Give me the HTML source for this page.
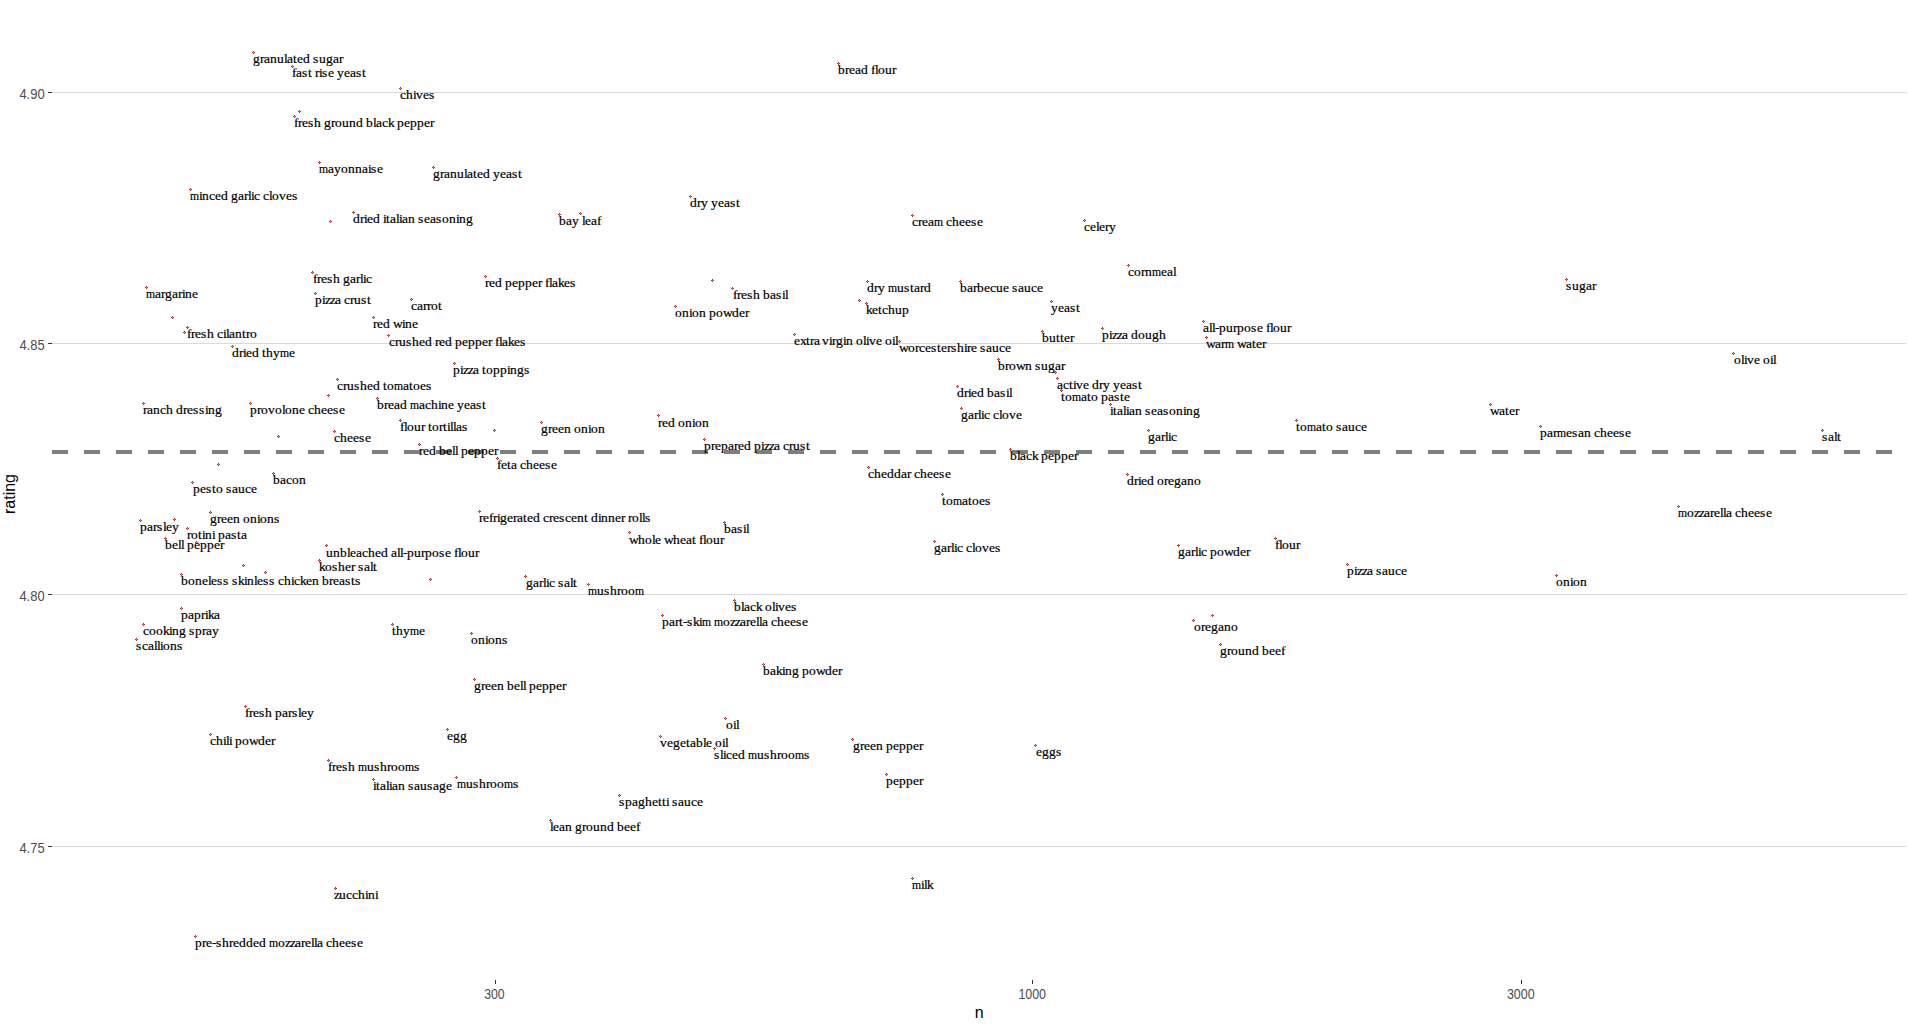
<!DOCTYPE html>
<html><head><meta charset="utf-8"><title>plot</title>
<style>
html,body{margin:0;padding:0;background:#fff;}
body{width:1908px;height:1028px;overflow:hidden;}
svg{display:block;}
.l{font-family:"Liberation Serif",serif;font-size:13px;fill:#000;stroke:#000;stroke-width:0.2px;}
.a{font-family:"Liberation Sans",sans-serif;font-size:14px;fill:#4d4d4d;}
.t{font-family:"Liberation Sans",sans-serif;font-size:16px;fill:#000;}
</style></head><body>
<svg width="1908" height="1028" viewBox="0 0 1908 1028">
<rect width="1908" height="1028" fill="#fff"/>
<rect x="52" y="92" width="1854" height="1" fill="#d9d9d9"/>
<rect x="52" y="343" width="1854" height="1" fill="#d9d9d9"/>
<rect x="52" y="594" width="1854" height="1" fill="#d9d9d9"/>
<rect x="52" y="846" width="1854" height="1" fill="#d9d9d9"/>
<rect x="48" y="92" width="4" height="1" fill="#333"/>
<rect x="48" y="343" width="4" height="1" fill="#333"/>
<rect x="48" y="594" width="4" height="1" fill="#333"/>
<rect x="48" y="846" width="4" height="1" fill="#333"/>
<rect x="495" y="980" width="1" height="4" fill="#333"/>
<rect x="1032" y="980" width="1" height="4" fill="#333"/>
<rect x="1521" y="980" width="1" height="4" fill="#333"/>
<g fill="#7f7f7f">
<rect x="52" y="450" width="16" height="4"/><rect x="84" y="450" width="16" height="4"/><rect x="116" y="450" width="16" height="4"/><rect x="148" y="450" width="16" height="4"/><rect x="180" y="450" width="16" height="4"/><rect x="212" y="450" width="16" height="4"/><rect x="244" y="450" width="16" height="4"/><rect x="276" y="450" width="16" height="4"/><rect x="308" y="450" width="16" height="4"/><rect x="340" y="450" width="16" height="4"/><rect x="372" y="450" width="16" height="4"/><rect x="404" y="450" width="16" height="4"/><rect x="436" y="450" width="16" height="4"/><rect x="468" y="450" width="16" height="4"/><rect x="500" y="450" width="16" height="4"/><rect x="532" y="450" width="16" height="4"/><rect x="564" y="450" width="16" height="4"/><rect x="596" y="450" width="16" height="4"/><rect x="628" y="450" width="16" height="4"/><rect x="660" y="450" width="16" height="4"/><rect x="692" y="450" width="16" height="4"/><rect x="724" y="450" width="16" height="4"/><rect x="756" y="450" width="16" height="4"/><rect x="788" y="450" width="16" height="4"/><rect x="820" y="450" width="16" height="4"/><rect x="852" y="450" width="16" height="4"/><rect x="884" y="450" width="16" height="4"/><rect x="916" y="450" width="16" height="4"/><rect x="948" y="450" width="16" height="4"/><rect x="980" y="450" width="16" height="4"/><rect x="1012" y="450" width="16" height="4"/><rect x="1044" y="450" width="16" height="4"/><rect x="1076" y="450" width="16" height="4"/><rect x="1108" y="450" width="16" height="4"/><rect x="1140" y="450" width="16" height="4"/><rect x="1172" y="450" width="16" height="4"/><rect x="1204" y="450" width="16" height="4"/><rect x="1236" y="450" width="16" height="4"/><rect x="1268" y="450" width="16" height="4"/><rect x="1300" y="450" width="16" height="4"/><rect x="1332" y="450" width="16" height="4"/><rect x="1364" y="450" width="16" height="4"/><rect x="1396" y="450" width="16" height="4"/><rect x="1428" y="450" width="16" height="4"/><rect x="1460" y="450" width="16" height="4"/><rect x="1492" y="450" width="16" height="4"/><rect x="1524" y="450" width="16" height="4"/><rect x="1556" y="450" width="16" height="4"/><rect x="1588" y="450" width="16" height="4"/><rect x="1620" y="450" width="16" height="4"/><rect x="1652" y="450" width="16" height="4"/><rect x="1684" y="450" width="16" height="4"/><rect x="1716" y="450" width="16" height="4"/><rect x="1748" y="450" width="16" height="4"/><rect x="1780" y="450" width="16" height="4"/><rect x="1812" y="450" width="16" height="4"/><rect x="1844" y="450" width="16" height="4"/><rect x="1876" y="450" width="16" height="4"/>
</g>
<g fill="#a83232">
<path d="M253 51h1v1h1v1h-1v1h-1v-1h-1v-1h1z"/><path d="M292 65h1v1h1v1h-1v1h-1v-1h-1v-1h1z"/><path d="M400 87h1v1h1v1h-1v1h-1v-1h-1v-1h1z"/><path d="M294 115h1v1h1v1h-1v1h-1v-1h-1v-1h1z"/><path d="M319 161h1v1h1v1h-1v1h-1v-1h-1v-1h1z"/><path d="M433 166h1v1h1v1h-1v1h-1v-1h-1v-1h1z"/><path d="M190 188h1v1h1v1h-1v1h-1v-1h-1v-1h1z"/><path d="M353 211h1v1h1v1h-1v1h-1v-1h-1v-1h1z"/><path d="M559 213h1v1h1v1h-1v1h-1v-1h-1v-1h1z"/><path d="M312 271h1v1h1v1h-1v1h-1v-1h-1v-1h1z"/><path d="M485 275h1v1h1v1h-1v1h-1v-1h-1v-1h1z"/><path d="M146 286h1v1h1v1h-1v1h-1v-1h-1v-1h1z"/><path d="M838 62h1v1h1v1h-1v1h-1v-1h-1v-1h1z"/><path d="M690 195h1v1h1v1h-1v1h-1v-1h-1v-1h1z"/><path d="M912 214h1v1h1v1h-1v1h-1v-1h-1v-1h1z"/><path d="M732 287h1v1h1v1h-1v1h-1v-1h-1v-1h1z"/><path d="M867 280h1v1h1v1h-1v1h-1v-1h-1v-1h1z"/><path d="M960 280h1v1h1v1h-1v1h-1v-1h-1v-1h1z"/><path d="M1084 219h1v1h1v1h-1v1h-1v-1h-1v-1h1z"/><path d="M1128 264h1v1h1v1h-1v1h-1v-1h-1v-1h1z"/><path d="M1051 300h1v1h1v1h-1v1h-1v-1h-1v-1h1z"/><path d="M1042 330h1v1h1v1h-1v1h-1v-1h-1v-1h1z"/><path d="M1102 327h1v1h1v1h-1v1h-1v-1h-1v-1h1z"/><path d="M1203 320h1v1h1v1h-1v1h-1v-1h-1v-1h1z"/><path d="M1206 336h1v1h1v1h-1v1h-1v-1h-1v-1h1z"/><path d="M1057 377h1v1h1v1h-1v1h-1v-1h-1v-1h1z"/><path d="M1061 389h1v1h1v1h-1v1h-1v-1h-1v-1h1z"/><path d="M1110 403h1v1h1v1h-1v1h-1v-1h-1v-1h1z"/><path d="M1148 429h1v1h1v1h-1v1h-1v-1h-1v-1h1z"/><path d="M1296 419h1v1h1v1h-1v1h-1v-1h-1v-1h1z"/><path d="M315 292h1v1h1v1h-1v1h-1v-1h-1v-1h1z"/><path d="M411 298h1v1h1v1h-1v1h-1v-1h-1v-1h1z"/><path d="M373 316h1v1h1v1h-1v1h-1v-1h-1v-1h1z"/><path d="M187 326h1v1h1v1h-1v1h-1v-1h-1v-1h1z"/><path d="M388 334h1v1h1v1h-1v1h-1v-1h-1v-1h1z"/><path d="M232 345h1v1h1v1h-1v1h-1v-1h-1v-1h1z"/><path d="M454 362h1v1h1v1h-1v1h-1v-1h-1v-1h1z"/><path d="M337 378h1v1h1v1h-1v1h-1v-1h-1v-1h1z"/><path d="M377 397h1v1h1v1h-1v1h-1v-1h-1v-1h1z"/><path d="M143 402h1v1h1v1h-1v1h-1v-1h-1v-1h1z"/><path d="M250 402h1v1h1v1h-1v1h-1v-1h-1v-1h1z"/><path d="M400 419h1v1h1v1h-1v1h-1v-1h-1v-1h1z"/><path d="M541 421h1v1h1v1h-1v1h-1v-1h-1v-1h1z"/><path d="M334 430h1v1h1v1h-1v1h-1v-1h-1v-1h1z"/><path d="M419 443h1v1h1v1h-1v1h-1v-1h-1v-1h1z"/><path d="M497 457h1v1h1v1h-1v1h-1v-1h-1v-1h1z"/><path d="M273 472h1v1h1v1h-1v1h-1v-1h-1v-1h1z"/><path d="M192 481h1v1h1v1h-1v1h-1v-1h-1v-1h1z"/><path d="M210 511h1v1h1v1h-1v1h-1v-1h-1v-1h1z"/><path d="M479 510h1v1h1v1h-1v1h-1v-1h-1v-1h1z"/><path d="M140 519h1v1h1v1h-1v1h-1v-1h-1v-1h1z"/><path d="M187 527h1v1h1v1h-1v1h-1v-1h-1v-1h1z"/><path d="M165 537h1v1h1v1h-1v1h-1v-1h-1v-1h1z"/><path d="M326 544h1v1h1v1h-1v1h-1v-1h-1v-1h1z"/><path d="M319 559h1v1h1v1h-1v1h-1v-1h-1v-1h1z"/><path d="M181 573h1v1h1v1h-1v1h-1v-1h-1v-1h1z"/><path d="M525 575h1v1h1v1h-1v1h-1v-1h-1v-1h1z"/><path d="M588 583h1v1h1v1h-1v1h-1v-1h-1v-1h1z"/><path d="M181 607h1v1h1v1h-1v1h-1v-1h-1v-1h1z"/><path d="M143 623h1v1h1v1h-1v1h-1v-1h-1v-1h1z"/><path d="M136 638h1v1h1v1h-1v1h-1v-1h-1v-1h1z"/><path d="M392 623h1v1h1v1h-1v1h-1v-1h-1v-1h1z"/><path d="M471 632h1v1h1v1h-1v1h-1v-1h-1v-1h1z"/><path d="M474 678h1v1h1v1h-1v1h-1v-1h-1v-1h1z"/><path d="M245 705h1v1h1v1h-1v1h-1v-1h-1v-1h1z"/><path d="M210 733h1v1h1v1h-1v1h-1v-1h-1v-1h1z"/><path d="M447 728h1v1h1v1h-1v1h-1v-1h-1v-1h1z"/><path d="M866 302h1v1h1v1h-1v1h-1v-1h-1v-1h1z"/><path d="M675 305h1v1h1v1h-1v1h-1v-1h-1v-1h1z"/><path d="M794 333h1v1h1v1h-1v1h-1v-1h-1v-1h1z"/><path d="M899 340h1v1h1v1h-1v1h-1v-1h-1v-1h1z"/><path d="M998 358h1v1h1v1h-1v1h-1v-1h-1v-1h1z"/><path d="M957 385h1v1h1v1h-1v1h-1v-1h-1v-1h1z"/><path d="M961 407h1v1h1v1h-1v1h-1v-1h-1v-1h1z"/><path d="M658 414h1v1h1v1h-1v1h-1v-1h-1v-1h1z"/><path d="M704 438h1v1h1v1h-1v1h-1v-1h-1v-1h1z"/><path d="M1010 448h1v1h1v1h-1v1h-1v-1h-1v-1h1z"/><path d="M868 466h1v1h1v1h-1v1h-1v-1h-1v-1h1z"/><path d="M942 493h1v1h1v1h-1v1h-1v-1h-1v-1h1z"/><path d="M724 521h1v1h1v1h-1v1h-1v-1h-1v-1h1z"/><path d="M629 531h1v1h1v1h-1v1h-1v-1h-1v-1h1z"/><path d="M934 540h1v1h1v1h-1v1h-1v-1h-1v-1h1z"/><path d="M734 599h1v1h1v1h-1v1h-1v-1h-1v-1h1z"/><path d="M662 614h1v1h1v1h-1v1h-1v-1h-1v-1h1z"/><path d="M763 663h1v1h1v1h-1v1h-1v-1h-1v-1h1z"/><path d="M725 717h1v1h1v1h-1v1h-1v-1h-1v-1h1z"/><path d="M660 735h1v1h1v1h-1v1h-1v-1h-1v-1h1z"/><path d="M714 747h1v1h1v1h-1v1h-1v-1h-1v-1h1z"/><path d="M852 738h1v1h1v1h-1v1h-1v-1h-1v-1h1z"/><path d="M1035 744h1v1h1v1h-1v1h-1v-1h-1v-1h1z"/><path d="M886 773h1v1h1v1h-1v1h-1v-1h-1v-1h1z"/><path d="M912 877h1v1h1v1h-1v1h-1v-1h-1v-1h1z"/><path d="M328 759h1v1h1v1h-1v1h-1v-1h-1v-1h1z"/><path d="M373 778h1v1h1v1h-1v1h-1v-1h-1v-1h1z"/><path d="M456 776h1v1h1v1h-1v1h-1v-1h-1v-1h1z"/><path d="M619 794h1v1h1v1h-1v1h-1v-1h-1v-1h1z"/><path d="M550 819h1v1h1v1h-1v1h-1v-1h-1v-1h1z"/><path d="M335 887h1v1h1v1h-1v1h-1v-1h-1v-1h1z"/><path d="M195 935h1v1h1v1h-1v1h-1v-1h-1v-1h1z"/><path d="M1127 473h1v1h1v1h-1v1h-1v-1h-1v-1h1z"/><path d="M1178 544h1v1h1v1h-1v1h-1v-1h-1v-1h1z"/><path d="M1275 537h1v1h1v1h-1v1h-1v-1h-1v-1h1z"/><path d="M1347 563h1v1h1v1h-1v1h-1v-1h-1v-1h1z"/><path d="M1193 619h1v1h1v1h-1v1h-1v-1h-1v-1h1z"/><path d="M1220 643h1v1h1v1h-1v1h-1v-1h-1v-1h1z"/><path d="M1566 278h1v1h1v1h-1v1h-1v-1h-1v-1h1z"/><path d="M1733 352h1v1h1v1h-1v1h-1v-1h-1v-1h1z"/><path d="M1490 403h1v1h1v1h-1v1h-1v-1h-1v-1h1z"/><path d="M1540 425h1v1h1v1h-1v1h-1v-1h-1v-1h1z"/><path d="M1822 429h1v1h1v1h-1v1h-1v-1h-1v-1h1z"/><path d="M1678 505h1v1h1v1h-1v1h-1v-1h-1v-1h1z"/><path d="M1556 574h1v1h1v1h-1v1h-1v-1h-1v-1h1z"/><path d="M299 110h1v1h1v1h-1v1h-1v-1h-1v-1h1z"/><path d="M330 220h1v1h1v1h-1v1h-1v-1h-1v-1h1z"/><path d="M580 212h1v1h1v1h-1v1h-1v-1h-1v-1h1z"/><path d="M712 279h1v1h1v1h-1v1h-1v-1h-1v-1h1z"/><path d="M1055 371h1v1h1v1h-1v1h-1v-1h-1v-1h1z"/><path d="M172 316h1v1h1v1h-1v1h-1v-1h-1v-1h1z"/><path d="M184 331h1v1h1v1h-1v1h-1v-1h-1v-1h1z"/><path d="M328 394h1v1h1v1h-1v1h-1v-1h-1v-1h1z"/><path d="M494 429h1v1h1v1h-1v1h-1v-1h-1v-1h1z"/><path d="M278 435h1v1h1v1h-1v1h-1v-1h-1v-1h1z"/><path d="M218 463h1v1h1v1h-1v1h-1v-1h-1v-1h1z"/><path d="M174 518h1v1h1v1h-1v1h-1v-1h-1v-1h1z"/><path d="M196 541h1v1h1v1h-1v1h-1v-1h-1v-1h1z"/><path d="M243 564h1v1h1v1h-1v1h-1v-1h-1v-1h1z"/><path d="M265 571h1v1h1v1h-1v1h-1v-1h-1v-1h1z"/><path d="M430 578h1v1h1v1h-1v1h-1v-1h-1v-1h1z"/><path d="M859 299h1v1h1v1h-1v1h-1v-1h-1v-1h1z"/><path d="M1212 614h1v1h1v1h-1v1h-1v-1h-1v-1h1z"/>
</g>
<g fill="#cc8a8a">
<rect x="253" y="52" width="1" height="1"/><rect x="292" y="66" width="1" height="1"/><rect x="400" y="88" width="1" height="1"/><rect x="294" y="116" width="1" height="1"/><rect x="319" y="162" width="1" height="1"/><rect x="433" y="167" width="1" height="1"/><rect x="190" y="189" width="1" height="1"/><rect x="353" y="212" width="1" height="1"/><rect x="559" y="214" width="1" height="1"/><rect x="312" y="272" width="1" height="1"/><rect x="485" y="276" width="1" height="1"/><rect x="146" y="287" width="1" height="1"/><rect x="838" y="63" width="1" height="1"/><rect x="690" y="196" width="1" height="1"/><rect x="912" y="215" width="1" height="1"/><rect x="732" y="288" width="1" height="1"/><rect x="867" y="281" width="1" height="1"/><rect x="960" y="281" width="1" height="1"/><rect x="1084" y="220" width="1" height="1"/><rect x="1128" y="265" width="1" height="1"/><rect x="1051" y="301" width="1" height="1"/><rect x="1042" y="331" width="1" height="1"/><rect x="1102" y="328" width="1" height="1"/><rect x="1203" y="321" width="1" height="1"/><rect x="1206" y="337" width="1" height="1"/><rect x="1057" y="378" width="1" height="1"/><rect x="1061" y="390" width="1" height="1"/><rect x="1110" y="404" width="1" height="1"/><rect x="1148" y="430" width="1" height="1"/><rect x="1296" y="420" width="1" height="1"/><rect x="315" y="293" width="1" height="1"/><rect x="411" y="299" width="1" height="1"/><rect x="373" y="317" width="1" height="1"/><rect x="187" y="327" width="1" height="1"/><rect x="388" y="335" width="1" height="1"/><rect x="232" y="346" width="1" height="1"/><rect x="454" y="363" width="1" height="1"/><rect x="337" y="379" width="1" height="1"/><rect x="377" y="398" width="1" height="1"/><rect x="143" y="403" width="1" height="1"/><rect x="250" y="403" width="1" height="1"/><rect x="400" y="420" width="1" height="1"/><rect x="541" y="422" width="1" height="1"/><rect x="334" y="431" width="1" height="1"/><rect x="419" y="444" width="1" height="1"/><rect x="497" y="458" width="1" height="1"/><rect x="273" y="473" width="1" height="1"/><rect x="192" y="482" width="1" height="1"/><rect x="210" y="512" width="1" height="1"/><rect x="479" y="511" width="1" height="1"/><rect x="140" y="520" width="1" height="1"/><rect x="187" y="528" width="1" height="1"/><rect x="165" y="538" width="1" height="1"/><rect x="326" y="545" width="1" height="1"/><rect x="319" y="560" width="1" height="1"/><rect x="181" y="574" width="1" height="1"/><rect x="525" y="576" width="1" height="1"/><rect x="588" y="584" width="1" height="1"/><rect x="181" y="608" width="1" height="1"/><rect x="143" y="624" width="1" height="1"/><rect x="136" y="639" width="1" height="1"/><rect x="392" y="624" width="1" height="1"/><rect x="471" y="633" width="1" height="1"/><rect x="474" y="679" width="1" height="1"/><rect x="245" y="706" width="1" height="1"/><rect x="210" y="734" width="1" height="1"/><rect x="447" y="729" width="1" height="1"/><rect x="866" y="303" width="1" height="1"/><rect x="675" y="306" width="1" height="1"/><rect x="794" y="334" width="1" height="1"/><rect x="899" y="341" width="1" height="1"/><rect x="998" y="359" width="1" height="1"/><rect x="957" y="386" width="1" height="1"/><rect x="961" y="408" width="1" height="1"/><rect x="658" y="415" width="1" height="1"/><rect x="704" y="439" width="1" height="1"/><rect x="1010" y="449" width="1" height="1"/><rect x="868" y="467" width="1" height="1"/><rect x="942" y="494" width="1" height="1"/><rect x="724" y="522" width="1" height="1"/><rect x="629" y="532" width="1" height="1"/><rect x="934" y="541" width="1" height="1"/><rect x="734" y="600" width="1" height="1"/><rect x="662" y="615" width="1" height="1"/><rect x="763" y="664" width="1" height="1"/><rect x="725" y="718" width="1" height="1"/><rect x="660" y="736" width="1" height="1"/><rect x="714" y="748" width="1" height="1"/><rect x="852" y="739" width="1" height="1"/><rect x="1035" y="745" width="1" height="1"/><rect x="886" y="774" width="1" height="1"/><rect x="912" y="878" width="1" height="1"/><rect x="328" y="760" width="1" height="1"/><rect x="373" y="779" width="1" height="1"/><rect x="456" y="777" width="1" height="1"/><rect x="619" y="795" width="1" height="1"/><rect x="550" y="820" width="1" height="1"/><rect x="335" y="888" width="1" height="1"/><rect x="195" y="936" width="1" height="1"/><rect x="1127" y="474" width="1" height="1"/><rect x="1178" y="545" width="1" height="1"/><rect x="1275" y="538" width="1" height="1"/><rect x="1347" y="564" width="1" height="1"/><rect x="1193" y="620" width="1" height="1"/><rect x="1220" y="644" width="1" height="1"/><rect x="1566" y="279" width="1" height="1"/><rect x="1733" y="353" width="1" height="1"/><rect x="1490" y="404" width="1" height="1"/><rect x="1540" y="426" width="1" height="1"/><rect x="1822" y="430" width="1" height="1"/><rect x="1678" y="506" width="1" height="1"/><rect x="1556" y="575" width="1" height="1"/><rect x="299" y="111" width="1" height="1"/><rect x="330" y="221" width="1" height="1"/><rect x="580" y="213" width="1" height="1"/><rect x="712" y="280" width="1" height="1"/><rect x="1055" y="372" width="1" height="1"/><rect x="172" y="317" width="1" height="1"/><rect x="184" y="332" width="1" height="1"/><rect x="328" y="395" width="1" height="1"/><rect x="494" y="430" width="1" height="1"/><rect x="278" y="436" width="1" height="1"/><rect x="218" y="464" width="1" height="1"/><rect x="174" y="519" width="1" height="1"/><rect x="196" y="542" width="1" height="1"/><rect x="243" y="565" width="1" height="1"/><rect x="265" y="572" width="1" height="1"/><rect x="430" y="579" width="1" height="1"/><rect x="859" y="300" width="1" height="1"/><rect x="1212" y="615" width="1" height="1"/>
</g>
<g class="l" transform="scale(1.04,1)">
<text x="243.27 250 253.85 259.62 266.35 273.08 275.96 281.73 285.58 291.35 298.08 300.96 306.73 313.46 320.19 325.96" y="63">granulated sugar</text>
<text x="280.77 284.62 290.38 296.15 300 302.88 306.73 309.62 315.38 321.15 324.04 330.77 336.54 342.31 348.08" y="77">fast rise yeast</text>
<text x="384.62 390.38 397.12 400 406.73 412.5" y="99">chives</text>
<text x="282.69 286.54 290.38 296.15 301.92 308.65 311.54 318.27 322.12 328.85 335.58 342.31 349.04 351.92 358.65 361.54 367.31 373.08 378.85 381.73 388.46 394.23 400.96 407.69 413.46" y="127">fresh ground black pepper</text>
<text x="306.73 315.38 321.15 327.88 334.62 341.35 348.08 353.85 356.73 362.5" y="173"><tspan visibility="hidden">m</tspan>ayonnaise</text>
<text x="416.35 423.08 426.92 432.69 439.42 446.15 449.04 454.81 458.65 464.42 471.15 474.04 480.77 486.54 492.31 498.08" y="178">granulated yeast</text>
<text x="182.69 191.35 194.23 200.96 206.73 212.5 219.23 222.12 228.85 234.62 238.46 241.35 244.23 250 252.88 258.65 261.54 268.27 275 280.77" y="200"><tspan visibility="hidden">m</tspan>inced garlic cloves</text>
<text x="339.42 346.15 350 352.88 358.65 365.38 368.27 371.15 375 380.77 383.65 386.54 392.31 399.04 401.92 407.69 413.46 419.23 425 431.73 438.46 441.35 448.08" y="223">dried italian seasoning</text>
<text x="537.5 544.23 550 556.73 559.62 562.5 568.27 574.04" y="225">bay leaf</text>
<text x="300.96 304.81 308.65 314.42 320.19 326.92 329.81 336.54 342.31 346.15 349.04 351.92" y="283">fresh garlic</text>
<text x="466.35 470.19 475.96 482.69 485.58 492.31 498.08 504.81 511.54 517.31 521.15 524.04 527.88 530.77 536.54 542.31 548.08" y="287">red pepper flakes</text>
<text x="140.38 149.04 154.81 158.65 165.38 171.15 175 177.88 184.62" y="298"><tspan visibility="hidden">m</tspan>argarine</text>
<text x="805.77 812.5 816.35 822.12 827.88 834.62 837.5 841.35 844.23 850.96 857.69" y="74">bread flour</text>
<text x="663.46 670.19 674.04 680.77 683.65 690.38 696.15 701.92 707.69" y="207">dry yeast</text>
<text x="876.92 882.69 886.54 892.31 898.08 906.73 909.62 915.38 922.12 927.88 933.65 939.42" y="226">crea<tspan visibility="hidden">m</tspan> cheese</text>
<text x="704.81 708.65 712.5 718.27 724.04 730.77 733.65 740.38 746.15 751.92 754.81" y="299">fresh basil</text>
<text x="833.65 840.38 844.23 850.96 853.85 862.5 869.23 875 878.85 884.62 888.46" y="292">dry <tspan visibility="hidden">m</tspan>ustard</text>
<text x="923.08 929.81 935.58 939.42 946.15 951.92 957.69 964.42 970.19 973.08 978.85 984.62 991.35 997.12" y="292">barbecue sauce</text>
<text x="1042.31 1048.08 1053.85 1056.73 1062.5 1066.35" y="231">celery</text>
<text x="1084.62 1090.38 1097.12 1100.96 1107.69 1116.35 1122.12 1127.88" y="276">corn<tspan visibility="hidden">m</tspan>eal</text>
<text x="1010.58 1017.31 1023.08 1028.85 1034.62" y="312">yeast</text>
<text x="1001.92 1008.65 1015.38 1019.23 1023.08 1028.85" y="342">butter</text>
<text x="1059.62 1066.35 1069.23 1074.04 1078.85 1084.62 1087.5 1094.23 1100.96 1107.69 1114.42" y="339">pizza dough</text>
<text x="1156.73 1162.5 1165.38 1168.27 1172.12 1178.85 1185.58 1189.42 1196.15 1202.88 1208.65 1214.42 1217.31 1221.15 1224.04 1230.77 1237.5" y="332">all-purpose flour</text>
<text x="1159.62 1168.27 1174.04 1177.88 1186.54 1189.42 1198.08 1203.85 1207.69 1213.46" y="348">war<tspan visibility="hidden">m</tspan> water</text>
<text x="1016.35 1022.12 1027.88 1031.73 1034.62 1041.35 1047.12 1050 1056.73 1060.58 1067.31 1070.19 1076.92 1082.69 1088.46 1094.23" y="389">active dry yeast</text>
<text x="1020.19 1024.04 1030.77 1039.42 1045.19 1049.04 1055.77 1058.65 1065.38 1071.15 1076.92 1080.77" y="401">to<tspan visibility="hidden">m</tspan>ato paste</text>
<text x="1067.31 1070.19 1074.04 1079.81 1082.69 1085.58 1091.35 1098.08 1100.96 1106.73 1112.5 1118.27 1124.04 1130.77 1137.5 1140.38 1147.12" y="415">italian seasoning</text>
<text x="1103.85 1110.58 1116.35 1120.19 1123.08 1125.96" y="441">garlic</text>
<text x="1246.15 1250 1256.73 1265.38 1271.15 1275 1281.73 1284.62 1290.38 1296.15 1302.88 1308.65" y="431">to<tspan visibility="hidden">m</tspan>ato sauce</text>
<text x="302.88 309.62 312.5 317.31 322.12 327.88 330.77 336.54 340.38 347.12 352.88" y="304">pizza crust</text>
<text x="395.19 400.96 406.73 410.58 414.42 421.15" y="310">carrot</text>
<text x="358.65 362.5 368.27 375 377.88 386.54 389.42 396.15" y="328">red wine</text>
<text x="179.81 183.65 187.5 193.27 199.04 205.77 208.65 214.42 217.31 220.19 225.96 232.69 236.54 240.38" y="338">fresh cilantro</text>
<text x="374.04 379.81 383.65 390.38 396.15 402.88 408.65 415.38 418.27 422.12 427.88 434.62 437.5 444.23 450 456.73 463.46 469.23 473.08 475.96 479.81 482.69 488.46 494.23 500" y="346">crushed red pepper flakes</text>
<text x="223.08 229.81 233.65 236.54 242.31 249.04 251.92 255.77 262.5 269.23 277.88" y="357">dried thy<tspan visibility="hidden">m</tspan>e</text>
<text x="435.58 442.31 445.19 450 454.81 460.58 463.46 467.31 474.04 480.77 487.5 490.38 497.12 503.85" y="374">pizza toppings</text>
<text x="324.04 329.81 333.65 340.38 346.15 352.88 358.65 365.38 368.27 372.12 378.85 387.5 393.27 397.12 403.85 409.62" y="390">crushed to<tspan visibility="hidden">m</tspan>atoes</text>
<text x="362.5 369.23 373.08 378.85 384.62 391.35 394.23 402.88 408.65 414.42 421.15 424.04 430.77 436.54 439.42 446.15 451.92 457.69 463.46" y="409">bread <tspan visibility="hidden">m</tspan>achine yeast</text>
<text x="137.5 141.35 147.12 153.85 159.62 166.35 169.23 175.96 179.81 185.58 191.35 197.12 200 206.73" y="414">ranch dressing</text>
<text x="240.38 247.12 250.96 257.69 264.42 271.15 274.04 280.77 287.5 293.27 296.15 301.92 308.65 314.42 320.19 325.96" y="414">provolone cheese</text>
<text x="384.62 388.46 391.35 398.08 404.81 408.65 411.54 415.38 422.12 425.96 429.81 432.69 435.58 438.46 444.23" y="431">flour tortillas</text>
<text x="520.19 526.92 530.77 536.54 542.31 549.04 551.92 558.65 565.38 568.27 575" y="433">green onion</text>
<text x="321.15 326.92 333.65 339.42 345.19 350.96" y="442">cheese</text>
<text x="402.88 406.73 412.5 419.23 422.12 428.85 434.62 437.5 440.38 443.27 450 455.77 462.5 469.23 475" y="455">red bell pepper</text>
<text x="477.88 481.73 487.5 491.35 497.12 500 505.77 512.5 518.27 524.04 529.81" y="469">feta cheese</text>
<text x="262.5 269.23 275 280.77 287.5" y="484">bacon</text>
<text x="185.58 192.31 198.08 203.85 207.69 214.42 217.31 223.08 228.85 235.58 241.35" y="493">pesto sauce</text>
<text x="201.92 208.65 212.5 218.27 224.04 230.77 233.65 240.38 247.12 250 256.73 263.46" y="523">green onions</text>
<text x="460.58 464.42 470.19 474.04 477.88 480.77 487.5 493.27 497.12 502.88 506.73 512.5 519.23 522.12 527.88 531.73 537.5 543.27 549.04 554.81 561.54 565.38 568.27 575 577.88 584.62 591.35 597.12 600.96 603.85 607.69 614.42 617.31 620.19" y="522">refrigerated crescent dinner rolls</text>
<text x="134.62 141.35 147.12 150.96 156.73 159.62 165.38" y="531">parsley</text>
<text x="179.81 183.65 190.38 194.23 197.12 203.85 206.73 209.62 216.35 222.12 227.88 231.73" y="539">rotini pasta</text>
<text x="158.65 165.38 171.15 174.04 176.92 179.81 186.54 192.31 199.04 205.77 211.54" y="549">bell pepper</text>
<text x="313.46 320.19 326.92 333.65 336.54 342.31 348.08 353.85 360.58 366.35 373.08 375.96 381.73 384.62 387.5 391.35 398.08 404.81 408.65 415.38 422.12 427.88 433.65 436.54 440.38 443.27 450 456.73" y="557">unbleached all-purpose flour</text>
<text x="306.73 312.5 319.23 325 331.73 337.5 341.35 344.23 350 355.77 358.65" y="571">kosher salt</text>
<text x="174.04 180.77 187.5 194.23 200 202.88 208.65 214.42 220.19 223.08 228.85 234.62 237.5 244.23 247.12 252.88 258.65 264.42 267.31 273.08 279.81 282.69 288.46 294.23 300 306.73 309.62 316.35 320.19 325.96 331.73 337.5 341.35" y="585">boneless skinless chicken breasts</text>
<text x="505.77 512.5 518.27 522.12 525 527.88 533.65 536.54 542.31 548.08 550.96" y="587">garlic salt</text>
<text x="565.38 574.04 580.77 586.54 593.27 597.12 603.85 610.58" y="595"><tspan visibility="hidden">m</tspan>ushroo<tspan visibility="hidden">m</tspan></text>
<text x="174.04 180.77 186.54 193.27 197.12 200 205.77" y="619">paprika</text>
<text x="137.5 143.27 150 156.73 162.5 165.38 172.12 178.85 181.73 187.5 194.23 198.08 203.85" y="635">cooking spray</text>
<text x="130.77 136.54 142.31 148.08 150.96 153.85 156.73 163.46 170.19" y="650">scallions</text>
<text x="376.92 380.77 387.5 394.23 402.88" y="635">thy<tspan visibility="hidden">m</tspan>e</text>
<text x="452.88 459.62 466.35 469.23 475.96 482.69" y="644">onions</text>
<text x="455.77 462.5 466.35 472.12 477.88 484.62 487.5 494.23 500 502.88 505.77 508.65 515.38 521.15 527.88 534.62 540.38" y="690">green bell pepper</text>
<text x="235.58 239.42 243.27 249.04 254.81 261.54 264.42 271.15 276.92 280.77 286.54 289.42 295.19" y="717">fresh parsley</text>
<text x="201.92 207.69 214.42 217.31 220.19 223.08 225.96 232.69 239.42 248.08 254.81 260.58" y="745">chili powder</text>
<text x="429.81 435.58 442.31" y="740">egg</text>
<text x="832.69 838.46 844.23 848.08 853.85 860.58 867.31" y="314">ketchup</text>
<text x="649.04 655.77 662.5 665.38 672.12 678.85 681.73 688.46 695.19 703.85 710.58 716.35" y="317">onion powder</text>
<text x="763.46 769.23 775 778.85 782.69 788.46 790.38 797.12 800 803.85 810.58 813.46 820.19 823.08 829.81 832.69 835.58 842.31 848.08 850.96 857.69 860.58" y="345">extra virgin olive oil</text>
<text x="864.42 873.08 879.81 883.65 889.42 895.19 900.96 904.81 910.58 914.42 920.19 926.92 929.81 933.65 939.42 942.31 948.08 953.85 960.58 966.35" y="352">worcestershire sauce</text>
<text x="959.62 966.35 970.19 976.92 985.58 992.31 995.19 1000.96 1007.69 1014.42 1020.19" y="370">brown sugar</text>
<text x="920.19 926.92 930.77 933.65 939.42 946.15 949.04 955.77 961.54 967.31 970.19" y="397">dried basil</text>
<text x="924.04 930.77 936.54 940.38 943.27 946.15 951.92 954.81 960.58 963.46 970.19 976.92" y="419">garlic clove</text>
<text x="632.69 636.54 642.31 649.04 651.92 658.65 665.38 668.27 675" y="427">red onion</text>
<text x="676.92 683.65 687.5 693.27 700 705.77 709.62 715.38 722.12 725 731.73 734.62 739.42 744.23 750 752.88 758.65 762.5 769.23 775" y="450">prepared pizza crust</text>
<text x="971.15 977.88 980.77 986.54 992.31 998.08 1000.96 1007.69 1013.46 1020.19 1026.92 1032.69" y="460">black pepper</text>
<text x="834.62 840.38 847.12 852.88 859.62 866.35 872.12 875.96 878.85 884.62 891.35 897.12 902.88 908.65" y="478">cheddar cheese</text>
<text x="905.77 909.62 916.35 925 930.77 934.62 941.35 947.12" y="505">to<tspan visibility="hidden">m</tspan>atoes</text>
<text x="696.15 702.88 708.65 714.42 717.31" y="533">basil</text>
<text x="604.81 613.46 620.19 626.92 629.81 635.58 638.46 647.12 653.85 659.62 665.38 669.23 672.12 675.96 678.85 685.58 692.31" y="544">whole wheat flour</text>
<text x="898.08 904.81 910.58 914.42 917.31 920.19 925.96 928.85 934.62 937.5 944.23 950.96 956.73" y="552">garlic cloves</text>
<text x="705.77 712.5 715.38 721.15 726.92 732.69 735.58 742.31 745.19 748.08 754.81 760.58" y="611">black olives</text>
<text x="636.54 643.27 649.04 652.88 656.73 660.58 666.35 672.12 675 683.65 686.54 695.19 701.92 706.73 711.54 717.31 721.15 726.92 729.81 732.69 738.46 741.35 747.12 753.85 759.62 765.38 771.15" y="626">part-ski<tspan visibility="hidden">m</tspan> <tspan visibility="hidden">m</tspan>ozzarella cheese</text>
<text x="733.65 740.38 746.15 751.92 754.81 761.54 768.27 771.15 777.88 784.62 793.27 800 805.77" y="675">baking powder</text>
<text x="698.08 704.81 707.69" y="729">oil</text>
<text x="634.62 641.35 647.12 653.85 659.62 663.46 669.23 675.96 678.85 684.62 687.5 694.23 697.12" y="747">vegetable oil</text>
<text x="686.54 692.31 695.19 698.08 703.85 709.62 716.35 719.23 727.88 734.62 740.38 747.12 750.96 757.69 764.42 773.08" y="759">sliced <tspan visibility="hidden">m</tspan>ushroo<tspan visibility="hidden">m</tspan>s</text>
<text x="820.19 826.92 830.77 836.54 842.31 849.04 851.92 858.65 864.42 871.15 877.88 883.65" y="750">green pepper</text>
<text x="996.15 1001.92 1008.65 1015.38" y="756">eggs</text>
<text x="851.92 858.65 864.42 871.15 877.88 883.65" y="785">pepper</text>
<text x="876.92 885.58 888.46 891.35" y="889"><tspan visibility="hidden">m</tspan>ilk</text>
<text x="315.38 319.23 323.08 328.85 334.62 341.35 344.23 352.88 359.62 365.38 372.12 375.96 382.69 389.42 398.08" y="771">fresh <tspan visibility="hidden">m</tspan>ushroo<tspan visibility="hidden">m</tspan>s</text>
<text x="358.65 361.54 365.38 371.15 374.04 376.92 382.69 389.42 392.31 398.08 403.85 410.58 416.35 422.12 428.85" y="790">italian sausage</text>
<text x="439.42 448.08 454.81 460.58 467.31 471.15 477.88 484.62 493.27" y="788"><tspan visibility="hidden">m</tspan>ushroo<tspan visibility="hidden">m</tspan>s</text>
<text x="595.19 600.96 607.69 613.46 620.19 626.92 632.69 636.54 640.38 643.27 646.15 651.92 657.69 664.42 670.19" y="806">spaghetti sauce</text>
<text x="528.85 531.73 537.5 543.27 550 552.88 559.62 563.46 570.19 576.92 583.65 590.38 593.27 600 605.77 611.54" y="831">lean ground beef</text>
<text x="321.15 325.96 332.69 338.46 344.23 350.96 353.85 360.58" y="899">zucchini</text>
<text x="187.5 194.23 198.08 203.85 207.69 213.46 220.19 224.04 229.81 236.54 243.27 249.04 255.77 258.65 267.31 274.04 278.85 283.65 289.42 293.27 299.04 301.92 304.81 310.58 313.46 319.23 325.96 331.73 337.5 343.27" y="947">pre-shredded <tspan visibility="hidden">m</tspan>ozzarella cheese</text>
<text x="1083.65 1090.38 1094.23 1097.12 1102.88 1109.62 1112.5 1119.23 1123.08 1128.85 1135.58 1141.35 1148.08" y="485">dried oregano</text>
<text x="1132.69 1139.42 1145.19 1149.04 1151.92 1154.81 1160.58 1163.46 1170.19 1176.92 1185.58 1192.31 1198.08" y="556">garlic powder</text>
<text x="1225.96 1229.81 1232.69 1239.42 1246.15" y="549">flour</text>
<text x="1295.19 1301.92 1304.81 1309.62 1314.42 1320.19 1323.08 1328.85 1334.62 1341.35 1347.12" y="575">pizza sauce</text>
<text x="1148.08 1154.81 1158.65 1164.42 1171.15 1176.92 1183.65" y="631">oregano</text>
<text x="1173.08 1179.81 1183.65 1190.38 1197.12 1203.85 1210.58 1213.46 1220.19 1225.96 1231.73" y="655">ground beef</text>
<text x="1505.77 1511.54 1518.27 1525 1530.77" y="290">sugar</text>
<text x="1667.31 1674.04 1676.92 1679.81 1686.54 1692.31 1695.19 1701.92 1704.81" y="364">olive oil</text>
<text x="1432.69 1441.35 1447.12 1450.96 1456.73" y="415">water</text>
<text x="1480.77 1487.5 1493.27 1497.12 1505.77 1511.54 1517.31 1523.08 1529.81 1532.69 1538.46 1545.19 1550.96 1556.73 1562.5" y="437">par<tspan visibility="hidden">m</tspan>esan cheese</text>
<text x="1751.92 1757.69 1763.46 1766.35" y="441">salt</text>
<text x="1613.46 1622.12 1628.85 1633.65 1638.46 1644.23 1648.08 1653.85 1656.73 1659.62 1665.38 1668.27 1674.04 1680.77 1686.54 1692.31 1698.08" y="517"><tspan visibility="hidden">m</tspan>ozzarella cheese</text>
<text x="1496.15 1502.88 1509.62 1512.5 1519.23" y="586">onion</text>
</g>
<g class="l" aria-hidden="true">
<text transform="translate(319,173) scale(0.9,1)">m</text><text transform="translate(190,200) scale(0.9,1)">m</text><text transform="translate(146,298) scale(0.9,1)">m</text><text transform="translate(934,226) scale(0.9,1)">m</text><text transform="translate(888,292) scale(0.9,1)">m</text><text transform="translate(1152,276) scale(0.9,1)">m</text><text transform="translate(1225,348) scale(0.9,1)">m</text><text transform="translate(1072,401) scale(0.9,1)">m</text><text transform="translate(1307,431) scale(0.9,1)">m</text><text transform="translate(280,357) scale(0.9,1)">m</text><text transform="translate(394,390) scale(0.9,1)">m</text><text transform="translate(410,409) scale(0.9,1)">m</text><text transform="translate(588,595) scale(0.9,1)">m</text><text transform="translate(635,595) scale(0.9,1)">m</text><text transform="translate(410,635) scale(0.9,1)">m</text><text transform="translate(953,505) scale(0.9,1)">m</text><text transform="translate(702,626) scale(0.9,1)">m</text><text transform="translate(714,626) scale(0.9,1)">m</text><text transform="translate(748,759) scale(0.9,1)">m</text><text transform="translate(795,759) scale(0.9,1)">m</text><text transform="translate(912,889) scale(0.9,1)">m</text><text transform="translate(358,771) scale(0.9,1)">m</text><text transform="translate(405,771) scale(0.9,1)">m</text><text transform="translate(457,788) scale(0.9,1)">m</text><text transform="translate(504,788) scale(0.9,1)">m</text><text transform="translate(269,947) scale(0.9,1)">m</text><text transform="translate(1557,437) scale(0.9,1)">m</text><text transform="translate(1678,517) scale(0.9,1)">m</text>
</g>
<g class="a">
<text x="44.6" y="99.0" text-anchor="end" textLength="25.2" lengthAdjust="spacingAndGlyphs">4.90</text>
<text x="44.6" y="350.0" text-anchor="end" textLength="25.2" lengthAdjust="spacingAndGlyphs">4.85</text>
<text x="44.6" y="601.0" text-anchor="end" textLength="25.2" lengthAdjust="spacingAndGlyphs">4.80</text>
<text x="44.6" y="853.0" text-anchor="end" textLength="25.2" lengthAdjust="spacingAndGlyphs">4.75</text>
<text x="494.4" y="999" text-anchor="middle" textLength="20.5" lengthAdjust="spacingAndGlyphs">300</text>
<text x="1032.2" y="999" text-anchor="middle" textLength="27.6" lengthAdjust="spacingAndGlyphs">1000</text>
<text x="1520.8" y="999" text-anchor="middle" textLength="27.8" lengthAdjust="spacingAndGlyphs">3000</text>
</g>
<text class="t" x="979.3" y="1018" text-anchor="middle">n</text>
<text class="t" transform="translate(15,494) rotate(-90)" text-anchor="middle">rating</text>
</svg>
</body></html>
